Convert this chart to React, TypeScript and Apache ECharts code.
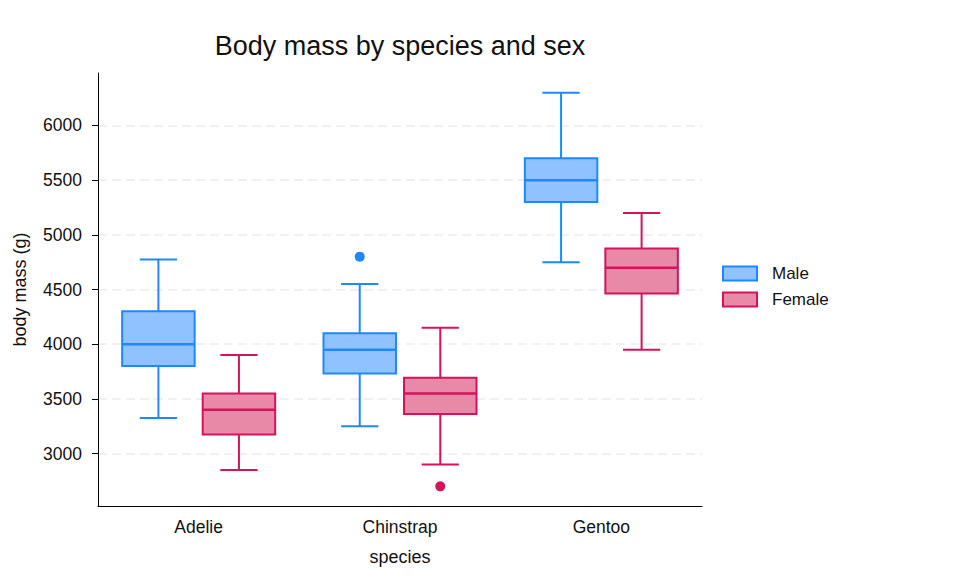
import React, { useEffect, useRef } from "react";
import * as echarts from "echarts";

// Penguin body mass (g), five-number summaries per species and sex
const species = ["Adelie", "Chinstrap", "Gentoo"];

const maleLow = [3325, 3250, 4750];
const maleQ1 = [3800, 3731, 5300];
const maleMedian = [4000, 3950, 5500];
const maleQ3 = [4300, 4100, 5700];
const maleHigh = [4775, 4550, 6300];

const femaleLow = [2850, 2900, 3950];
const femaleQ1 = [3175, 3362, 4463];
const femaleMedian = [3400, 3550, 4700];
const femaleQ3 = [3550, 3694, 4875];
const femaleHigh = [3900, 4150, 5200];

// [species index, value]
const maleOutliers = [[1, 4800]];
const femaleOutliers = [[1, 2700]];

// value range of the y axis (data range plus a 5% margin on each side)
const yMin = 2520;
const yMax = 6480;

const FONT = "'Liberation Sans', Arial, Helvetica, sans-serif";
const TEXT = "#111111";

const MALE_STROKE = "#1e88ff";
const MALE_FILL = "#90c2ff";
const FEMALE_STROKE = "#d6125a";
const FEMALE_FILL = "#e889a8";

// offsets and widths as fractions of a category band
const BOX_OFFSET = 0.2;
const BOX_WIDTH = 0.36;
const CAP_WIDTH = 0.185;

function boxRenderer(offset: number, stroke: string, fill: string) {
  return (params: any, api: any) => {
    const cat = api.value(0);
    const band = api.size([1, 0])[0];
    const cx = api.coord([cat, api.value(3)])[0] + offset * band;
    const yLow = api.coord([cat, api.value(1)])[1];
    const yQ1 = api.coord([cat, api.value(2)])[1];
    const yMed = api.coord([cat, api.value(3)])[1];
    const yQ3 = api.coord([cat, api.value(4)])[1];
    const yHigh = api.coord([cat, api.value(5)])[1];
    const hw = (BOX_WIDTH * band) / 2;
    const cw = (CAP_WIDTH * band) / 2;
    const lineStyle = { stroke, lineWidth: 2, fill: null };
    return {
      type: "group",
      children: [
        { type: "line", shape: { x1: cx, y1: yQ3, x2: cx, y2: yHigh }, style: lineStyle },
        { type: "line", shape: { x1: cx, y1: yQ1, x2: cx, y2: yLow }, style: lineStyle },
        { type: "line", shape: { x1: cx - cw, y1: yHigh, x2: cx + cw, y2: yHigh }, style: lineStyle },
        { type: "line", shape: { x1: cx - cw, y1: yLow, x2: cx + cw, y2: yLow }, style: lineStyle },
        {
          type: "rect",
          shape: { x: cx - hw, y: yQ3, width: hw * 2, height: yQ1 - yQ3 },
          style: { fill, stroke, lineWidth: 2 },
        },
        { type: "line", shape: { x1: cx - hw, y1: yMed, x2: cx + hw, y2: yMed }, style: { stroke, lineWidth: 2.5 } },
      ],
    };
  };
}

function outlierRenderer(offset: number, color: string) {
  return (params: any, api: any) => {
    const cat = api.value(0);
    const band = api.size([1, 0])[0];
    const p = api.coord([cat, api.value(1)]);
    return {
      type: "circle",
      shape: { cx: p[0] + offset * band, cy: p[1], r: 5 },
      style: { fill: color },
    };
  };
}

export default function App() {
  const ref = useRef<HTMLDivElement>(null);

  useEffect(() => {
    if (!ref.current) return;
    const chart = echarts.init(ref.current, undefined, { renderer: "svg" });

    const maleData = species.map((_, i) => [i, maleLow[i], maleQ1[i], maleMedian[i], maleQ3[i], maleHigh[i]]);
    const femaleData = species.map((_, i) => [i, femaleLow[i], femaleQ1[i], femaleMedian[i], femaleQ3[i], femaleHigh[i]]);

    chart.setOption({
      animation: false,
      backgroundColor: "#ffffff",
      textStyle: { fontFamily: FONT },
      title: {
        text: "Body mass by species and sex",
        left: 400,
        top: 32,
        padding: 0,
        textAlign: "center",
        textStyle: { fontFamily: FONT, fontSize: 27, fontWeight: "normal", color: TEXT },
      },
      legend: {
        orient: "vertical",
        left: 722,
        top: 265,
        padding: 0,
        itemWidth: 34,
        itemHeight: 14,
        itemGap: 9,
        textStyle: { fontFamily: FONT, fontSize: 17, color: TEXT, padding: [0, 0, 0, 10] },
        data: [
          { name: "Male", icon: "rect", itemStyle: { color: MALE_FILL, borderColor: MALE_STROKE, borderWidth: 2 } },
          { name: "Female", icon: "rect", itemStyle: { color: FEMALE_FILL, borderColor: FEMALE_STROKE, borderWidth: 2 } },
        ],
      },
      grid: { left: 98, right: 273, top: 73, bottom: 79, containLabel: false },
      xAxis: {
        type: "category",
        data: species,
        boundaryGap: true,
        name: "species",
        nameLocation: "middle",
        nameGap: 42,
        nameTextStyle: { fontFamily: FONT, fontSize: 18, color: TEXT },
        axisLine: { lineStyle: { color: "#000", width: 1 } },
        axisTick: { alignWithLabel: true, length: 6, lineStyle: { color: "#000" } },
        axisLabel: { fontFamily: FONT, fontSize: 17.5, color: TEXT, margin: 12 },
        splitLine: { show: false },
      },
      yAxis: {
        type: "value",
        min: yMin,
        max: yMax,
        splitNumber: 8,
        name: "body mass (g)",
        nameLocation: "middle",
        nameGap: 69,
        nameTextStyle: { fontFamily: FONT, fontSize: 18, color: TEXT },
        axisLine: { show: true, lineStyle: { color: "#000", width: 1 } },
        axisTick: { show: true, length: 6, lineStyle: { color: "#000" } },
        axisLabel: {
          fontFamily: FONT,
          fontSize: 17.5,
          color: TEXT,
          margin: 16,
          showMinLabel: false,
          showMaxLabel: false,
          formatter: (v: number) => String(v),
        },
        splitLine: {
          show: true,
          showMinLine: false,
          showMaxLine: false,
          lineStyle: { color: "#ebebeb", width: 1.5, type: [9, 5] },
        },
      },
      series: [
        {
          name: "Male",
          type: "custom",
          renderItem: boxRenderer(-BOX_OFFSET, MALE_STROKE, MALE_FILL),
          encode: { x: 0, y: [1, 2, 3, 4, 5] },
          itemStyle: { color: MALE_FILL, borderColor: MALE_STROKE },
          data: maleData,
          z: 3,
        },
        {
          name: "Female",
          type: "custom",
          renderItem: boxRenderer(BOX_OFFSET, FEMALE_STROKE, FEMALE_FILL),
          encode: { x: 0, y: [1, 2, 3, 4, 5] },
          itemStyle: { color: FEMALE_FILL, borderColor: FEMALE_STROKE },
          data: femaleData,
          z: 3,
        },
        {
          name: "Male",
          type: "custom",
          renderItem: outlierRenderer(-BOX_OFFSET, MALE_STROKE),
          encode: { x: 0, y: 1 },
          data: maleOutliers,
          z: 3,
        },
        {
          name: "Female",
          type: "custom",
          renderItem: outlierRenderer(BOX_OFFSET, FEMALE_STROKE),
          encode: { x: 0, y: 1 },
          data: femaleOutliers,
          z: 3,
        },
      ],
    });

    return () => chart.dispose();
  }, []);

  return (
    <div
      ref={ref}
      style={{ position: "fixed", left: 0, top: 0, width: 975, height: 585, background: "#fff" }}
    />
  );
}
